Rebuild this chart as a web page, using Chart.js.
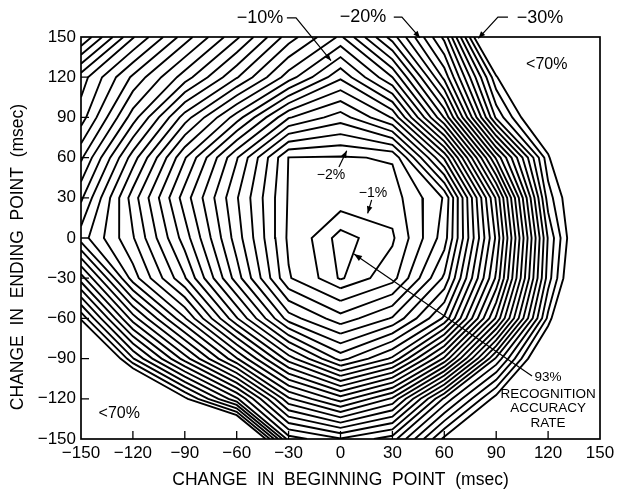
<!DOCTYPE html>
<html>
<head>
<meta charset="utf-8">
<title>Recognition accuracy vs. endpoint shift</title>
<script src="https://cdn.jsdelivr.net/npm/chart.js@4.4.1/dist/chart.umd.min.js"></script>
<style>
  html, body { margin: 0; padding: 0; background: #fff; }
  canvas { display: block; }
</style>
</head>
<body>
<canvas id="chart" width="623" height="494"></canvas>
<script>
// Shift of the beginning point (ms) at each grid column
const beginShift = [-150, -120, -90, -60, -30, 0, 30, 60, 90, 120, 150];
// Shift of the ending point (ms) at each grid row
const endShift = [-150, -120, -90, -60, -30, 0, 30, 60, 90, 120, 150];

// Change in recognition accuracy (percentage points from the 93% peak),
// one array per ending-point shift, listed by beginning-point shift.
const accEndP150 = [-31, -26.1, -22.5, -19.2, -15.5, -12.8, -17.5, -23.3, -35, -45, -55];
const accEndP120 = [-26.5, -22.8, -19.5, -16.1, -12.5, -9.2, -13, -20.3, -29.8, -38, -48];
const accEndP90  = [-25.5, -20.5, -15.5, -11.5, -7.1, -5.5, -8.1, -16.1, -27.2, -33, -42];
const accEndP60  = [-23.2, -17.5, -12.1, -7.1, -1.97, -1.9, -2.1, -9.2, -20.2, -29.7, -40];
const accEndP30  = [-21.2, -15.5, -10.5, -6.1, -1.9, -1.5, -1.5, -4.1, -15.2, -28.5, -34];
const accEnd0    = [-19.5, -16.1, -11.5, -6.5, -1.8, 0, -0.85, -4.5, -14.2, -27.1, -35];
const accEndM30  = [-24.5, -17.5, -13.1, -7.5, -2.1, -0.2, -1.6, -6.2, -15.2, -27.5, -36];
const accEndM60  = [-29.8, -22.5, -17.1, -11.1, -5.5, -3.4, -5.1, -9.2, -18.2, -29.3, -40];
const accEndM90  = [-36, -28.1, -22.5, -17.1, -11.5, -7.6, -10.2, -16.2, -25.2, -33, -44];
const accEndM120 = [-45, -36, -30.3, -25.2, -18.2, -15.5, -18.2, -25.2, -30.5, -40, -50];
const accEndM150 = [-55, -48, -42, -37, -24.5, -23.1, -24.5, -30.3, -40, -48, -56];

// Contour levels (%), innermost first
const contourLevels = [-0.3, -1, -2, -3, -4, -5, -6, -7, -8, -9, -10,
  -11, -12, -13, -14, -15, -16, -17, -18, -19, -20,
  -21, -22, -23, -24, -25, -26, -27, -28, -29, -30];

// Axis tick values (ms)
const xTickValues = [-150, -120, -90, -60, -30, 0, 30, 60, 90, 120, 150];
const yTickValues = [-150, -120, -90, -60, -30, 0, 30, 60, 90, 120, 150];

// Rows ordered bottom to top, matching endShift
const accuracyRows = [accEndM150, accEndM120, accEndM90, accEndM60, accEndM30,
  accEnd0, accEndP30, accEndP60, accEndP90, accEndP120, accEndP150];

// Labelled contours with leader arrows (anchors in data units)
const levelNotes = [
  { text: '\u221210%', at: [-46.5, 164.2], size: 18, leader: [[-31, 164.2], [-25.7, 164.2], [-5.5, 132.3]] },
  { text: '\u221220%', at: [13, 164.9], size: 18, leader: [[30.8, 164.9], [35.5, 164.9], [46, 149.3]] },
  { text: '\u221230%', at: [115.3, 164.2], size: 18, leader: [[96.8, 164.9], [91, 164.9], [79.7, 149]] },
  { text: '\u22122%', at: [-5.5, 47], size: 14, leader: [[-0.9, 53], [3.6, 65.1]] },
  { text: '\u22121%', at: [18.8, 33.6], size: 14, leader: [[18, 28.4], [15.7, 18.4]] }
];
const peakNote = {
  lines: ['93%', 'RECOGNITION', 'ACCURACY', 'RATE'],
  x: 120, ys: [-104.3, -116.4, -127.1, -138.3], size: 13.5,
  leader: [[110.7, -103], [7.8, -11.9]]
};
const regionNotes = [
  { text: '<70%', at: [119.2, 129.1] },
  { text: '<70%', at: [-127.9, -130.8] }
];

const FONT = '"Liberation Sans", Arial, Helvetica, sans-serif';

// Marching squares over the accuracy grid, chained into polylines
function contourPaths(level) {
  const nx = beginShift.length, ny = endShift.length;
  const v = (i, j) => accuracyRows[j][i];
  const cross = (i1, j1, i2, j2) => {
    const a = v(i1, j1), b = v(i2, j2);
    const t = (level - a) / (b - a);
    return { x: beginShift[i1] + (beginShift[i2] - beginShift[i1]) * t,
             y: endShift[j1] + (endShift[j2] - endShift[j1]) * t };
  };
  const segs = [];
  for (let j = 0; j < ny - 1; j++) {
    for (let i = 0; i < nx - 1; i++) {
      const bl = v(i, j) > level, br = v(i + 1, j) > level;
      const tr = v(i + 1, j + 1) > level, tl = v(i, j + 1) > level;
      const E = {};
      if (bl !== br) E.B = { key: 'h' + i + '_' + j, p: cross(i, j, i + 1, j) };
      if (br !== tr) E.R = { key: 'v' + (i + 1) + '_' + j, p: cross(i + 1, j, i + 1, j + 1) };
      if (tl !== tr) E.T = { key: 'h' + i + '_' + (j + 1), p: cross(i, j + 1, i + 1, j + 1) };
      if (bl !== tl) E.L = { key: 'v' + i + '_' + j, p: cross(i, j, i, j + 1) };
      const ks = Object.keys(E);
      if (ks.length === 2) {
        segs.push([E[ks[0]], E[ks[1]]]);
      } else if (ks.length === 4) {
        const centre = (v(i, j) + v(i + 1, j) + v(i + 1, j + 1) + v(i, j + 1)) / 4 > level;
        if (centre === bl) { segs.push([E.B, E.R]); segs.push([E.T, E.L]); }
        else { segs.push([E.L, E.B]); segs.push([E.R, E.T]); }
      }
    }
  }
  const byKey = {};
  segs.forEach((s, idx) => s.forEach(e => (byKey[e.key] = byKey[e.key] || []).push(idx)));
  const used = new Array(segs.length).fill(false);
  const follow = (idx, fromEnd) => {
    const pts = [segs[idx][fromEnd].p];
    let end = segs[idx][1 - fromEnd];
    used[idx] = true;
    for (;;) {
      pts.push(end.p);
      const next = byKey[end.key].find(k => !used[k]);
      if (next === undefined) break;
      used[next] = true;
      const s = segs[next];
      end = s[0].key === end.key ? s[1] : s[0];
    }
    return pts;
  };
  const paths = [];
  segs.forEach((s, idx) => {
    if (used[idx]) return;
    for (let e = 0; e < 2; e++) {
      if (byKey[s[e].key].length === 1) { paths.push(follow(idx, e)); return; }
    }
  });
  segs.forEach((s, idx) => { if (!used[idx]) paths.push(follow(idx, 0)); });
  return paths;
}

const datasets = contourLevels.map(level => {
  const data = [];
  contourPaths(level).forEach(path => {
    path.forEach(p => data.push({ x: p.x, y: p.y }));
    data.push({ x: path[path.length - 1].x, y: null });
  });
  return {
    label: level + '%',
    data,
    showLine: true,
    spanGaps: false,
    borderColor: '#000',
    borderWidth: 1.9,
    pointRadius: 0,
    pointHoverRadius: 0,
    fill: false
  };
});

const minusLabel = v => (v < 0 ? '\u2212' + Math.abs(v) : String(v));

function arrowHead(ctx, x0, y0, x1, y1, len, half) {
  const ang = Math.atan2(y1 - y0, x1 - x0);
  ctx.beginPath();
  ctx.moveTo(x1, y1);
  ctx.lineTo(x1 - len * Math.cos(ang) + half * Math.sin(ang), y1 - len * Math.sin(ang) - half * Math.cos(ang));
  ctx.lineTo(x1 - len * Math.cos(ang) - half * Math.sin(ang), y1 - len * Math.sin(ang) + half * Math.cos(ang));
  ctx.closePath();
  ctx.fill();
}

const decorations = {
  id: 'decorations',
  afterDraw(chart) {
    const { ctx, chartArea: a, scales: { x, y } } = chart;
    const px = v => x.getPixelForValue(v);
    const py = v => y.getPixelForValue(v);
    ctx.save();
    ctx.strokeStyle = '#000';
    ctx.fillStyle = '#000';

    // frame
    ctx.lineWidth = 1.7;
    ctx.strokeRect(a.left, a.top, a.right - a.left, a.bottom - a.top);

    // inward tick marks
    ctx.lineWidth = 1.3;
    ctx.beginPath();
    xTickValues.slice(1, -1).forEach(t => {
      ctx.moveTo(px(t), a.bottom);
      ctx.lineTo(px(t), a.bottom - 8);
    });
    yTickValues.slice(1, -1).forEach(t => {
      ctx.moveTo(a.left, py(t));
      ctx.lineTo(a.left + 8, py(t));
    });
    ctx.stroke();

    // vertical axis title
    ctx.save();
    ctx.translate(a.left - 63, (a.top + a.bottom) / 2 + 19);
    ctx.rotate(-Math.PI / 2);
    ctx.font = '17.5px ' + FONT;
    ctx.textAlign = 'center';
    ctx.textBaseline = 'middle';
    ctx.fillText('CHANGE  IN  ENDING  POINT  (msec)', 0, 0);
    ctx.restore();

    // contour labels and leaders
    ctx.lineWidth = 1.2;
    ctx.textAlign = 'center';
    ctx.textBaseline = 'middle';
    levelNotes.forEach(n => {
      ctx.font = n.size + 'px ' + FONT;
      ctx.fillText(n.text, px(n.at[0]), py(n.at[1]));
      const pts = n.leader.map(p => [px(p[0]), py(p[1])]);
      ctx.beginPath();
      pts.forEach((p, i) => (i ? ctx.lineTo(p[0], p[1]) : ctx.moveTo(p[0], p[1])));
      ctx.stroke();
      const p0 = pts[pts.length - 2], p1 = pts[pts.length - 1];
      arrowHead(ctx, p0[0], p0[1], p1[0], p1[1], 7, 2.8);
    });

    // peak label
    ctx.font = peakNote.size + 'px ' + FONT;
    peakNote.lines.forEach((t, i) => ctx.fillText(t, px(peakNote.x), py(peakNote.ys[i])));
    const q0 = [px(peakNote.leader[0][0]), py(peakNote.leader[0][1])];
    const q1 = [px(peakNote.leader[1][0]), py(peakNote.leader[1][1])];
    ctx.beginPath();
    ctx.moveTo(q0[0], q0[1]);
    ctx.lineTo(q1[0], q1[1]);
    ctx.stroke();
    arrowHead(ctx, q0[0], q0[1], q1[0], q1[1], 8, 3);

    // low-accuracy regions
    ctx.font = '16px ' + FONT;
    regionNotes.forEach(n => ctx.fillText(n.text, px(n.at[0]), py(n.at[1])));
    ctx.restore();
  }
};

new Chart(document.getElementById('chart'), {
  type: 'scatter',
  data: { datasets },
  options: {
    responsive: false,
    animation: false,
    devicePixelRatio: 1,
    events: [],
    layout: { padding: { left: 0, top: 37, right: 23, bottom: 0 } },
    plugins: { legend: { display: false }, tooltip: { enabled: false } },
    scales: {
      x: {
        type: 'linear',
        min: -150,
        max: 150,
        afterBuildTicks: axis => { axis.ticks = xTickValues.map(v => ({ value: v })); },
        afterFit: axis => { axis.height = 55; },
        grid: { display: false, drawTicks: false },
        border: { display: false },
        ticks: {
          autoSkip: false, maxRotation: 0, padding: 4, color: '#000',
          font: { family: FONT, size: 17 },
          callback: minusLabel
        },
        title: {
          display: true,
          text: 'CHANGE  IN  BEGINNING  POINT  (msec)',
          color: '#000',
          font: { family: FONT, size: 17.5 },
          padding: { top: 0, bottom: 3 }
        }
      },
      y: {
        type: 'linear',
        min: -150,
        max: 150,
        afterBuildTicks: axis => { axis.ticks = yTickValues.map(v => ({ value: v })); },
        afterFit: axis => { axis.width = 81; },
        grid: { display: false, drawTicks: false },
        border: { display: false },
        ticks: {
          autoSkip: false, padding: 5, color: '#000',
          font: { family: FONT, size: 17 },
          callback: minusLabel
        }
      }
    }
  },
  plugins: [decorations]
});
</script>
</body>
</html>
